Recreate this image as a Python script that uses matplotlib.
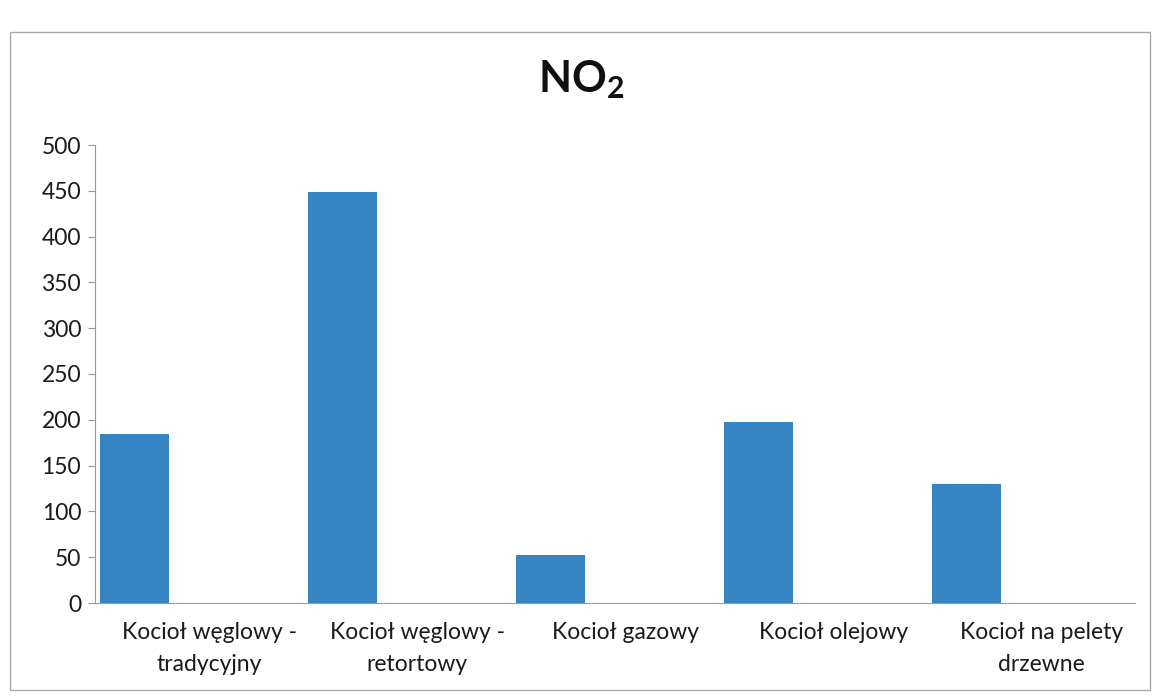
import matplotlib
matplotlib.use("Agg")
import matplotlib.pyplot as plt
from matplotlib.patches import Rectangle
import numpy as np

categories = ["Kocioł węglowy -\ntradycyjny", "Kocioł węglowy -\nretortowy",
              "Kocioł gazowy", "Kocioł olejowy", "Kocioł na pelety\ndrzewne"]
values = [184, 449, 52, 198, 130]
yticks = [0, 50, 100, 150, 200, 250, 300, 350, 400, 450, 500]

plt.rcParams['font.family'] = ['Lato', 'DejaVu Sans']
plt.rcParams['mathtext.fontset'] = 'custom'
plt.rcParams['mathtext.rm'] = 'Lato'
plt.rcParams['mathtext.bf'] = 'Lato:bold'

fig = plt.figure(figsize=(11.52, 6.99), dpi=100)
fig.patch.set_facecolor('white')
ax = fig.add_axes([95/1152, 1-603/699, (1135-95)/1152, (603-145)/699])

x = np.arange(len(categories))
ax.bar(x - 0.31, values, width=0.33, color='#3585C5')

ax.set_xlim(-0.5, len(categories) - 0.5)
ax.set_ylim(0, 500)
ax.set_yticks(yticks)
ax.set_yticklabels([str(t) for t in yticks], fontsize=16.5, color='#1a1a1a')
ax.set_xticks(x + 0.05)
ax.set_xticklabels(categories, fontsize=16.5, color='#1a1a1a', linespacing=1.6)
ax.tick_params(axis='x', length=0, pad=14)
ax.tick_params(axis='y', length=5, color='#999999', pad=5, direction='out')

for s in ['top', 'right']:
    ax.spines[s].set_visible(False)
ax.spines['left'].set_color('#999999')
ax.spines['bottom'].set_color('#999999')

fig.text(581/1152, 1-80/699, r"$\mathbf{NO_2}$", ha='center', va='center', fontsize=31, color='#111111')

fig.patches.append(Rectangle((10/1152, 1-690/699), 1140/1152, 658/699,
                             transform=fig.transFigure, fill=False,
                             edgecolor='#aaaaaa', linewidth=1.0))

fig.savefig("out.png", dpi=100, facecolor='white')
